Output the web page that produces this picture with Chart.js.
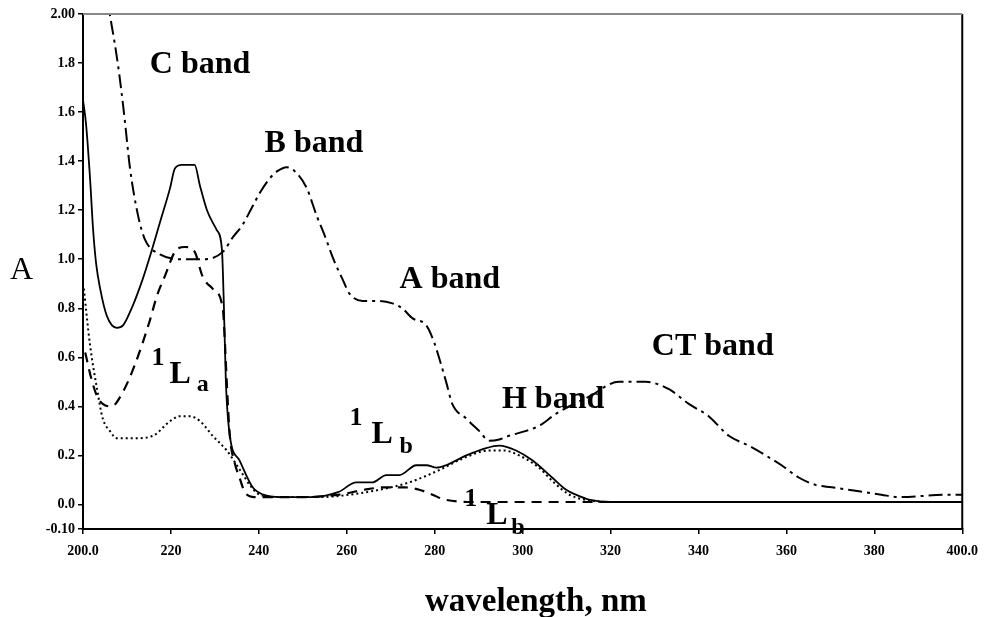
<!DOCTYPE html>
<html>
<head>
<meta charset="utf-8">
<title>UV-Vis absorption spectra</title>
<script src="https://cdn.jsdelivr.net/npm/chart.js@4.4.1/dist/chart.umd.min.js"></script>
<style>
  html, body { margin: 0; padding: 0; background: #fff; }
  canvas { display: block; }
</style>
</head>
<body>
<canvas id="spectra" width="987" height="617"></canvas>
<script>
// Absorption spectra (A vs wavelength, nm) for four samples

// dash-dot curve: C, B, A, H and CT bands
const dashDotWl  = [205.3, 207.9, 209.3, 210.7, 212.5, 214.1, 217.5, 223.2, 227.7, 231.8,
                    234.1, 236.3, 238.4, 240.2, 242.5, 244.3, 246.3, 248.1, 250.9, 253.1,
                    254.9, 257.2, 259.0, 260.6, 263.6, 267.4, 270.4, 272.6, 274.9, 278.1,
                    279.9, 281.3, 282.6, 284.0, 287.2, 290.1, 292.4, 294.7, 296.9, 300.8,
                    303.7, 307.6, 315.1, 321.9, 328.0, 333.3, 337.8, 342.3, 346.9, 351.4,
                    355.3, 358.9, 362.8, 366.6, 370.3, 374.1, 378.0, 381.6, 385.5, 396.8, 400.0];
const dashDotAbs = [2.08, 1.80, 1.60, 1.37, 1.18, 1.08, 1.02, 1.00, 1.00, 1.03,
                    1.09, 1.14, 1.21, 1.27, 1.33, 1.36, 1.375, 1.36, 1.29, 1.18,
                    1.10, 0.99, 0.92, 0.86, 0.83, 0.83, 0.82, 0.80, 0.76, 0.73,
                    0.66, 0.58, 0.50, 0.41, 0.35, 0.30, 0.26, 0.265, 0.28, 0.30,
                    0.32, 0.37, 0.44, 0.50, 0.50, 0.47, 0.41, 0.36, 0.28, 0.24,
                    0.20, 0.16, 0.11, 0.08, 0.07, 0.06, 0.05, 0.04, 0.03, 0.04, 0.04];

// solid curve
const solidWl  = [200.0, 200.7, 201.6, 202.3, 203.0, 203.9, 205.4, 207.7, 209.1, 211.3,
                  213.6, 215.2, 217.5, 219.8, 220.9, 222.5, 225.4, 226.6, 228.2, 230.4,
                  231.6, 232.0, 232.5, 233.4, 235.6, 238.6, 241.0, 245.0, 252.0, 258.0,
                  262.2, 265.8, 269.0, 272.0, 275.8, 278.1, 280.4, 282.6, 287.2, 291.7,
                  294.7, 298.5, 302.2, 306.7, 309.9, 312.1, 315.1, 320.0, 400.0];
const solidAbs = [1.65, 1.55, 1.33, 1.12, 0.98, 0.88, 0.77, 0.72, 0.73, 0.81,
                  0.92, 1.01, 1.15, 1.29, 1.37, 1.385, 1.385, 1.30, 1.20, 1.12,
                  1.04, 0.84, 0.50, 0.28, 0.18, 0.07, 0.04, 0.03, 0.03, 0.05,
                  0.09, 0.09, 0.12, 0.12, 0.16, 0.16, 0.15, 0.16, 0.20, 0.23,
                  0.24, 0.22, 0.18, 0.11, 0.06, 0.04, 0.02, 0.01, 0.01];

// dashed curve (1La / 1Lb)
const dashedWl  = [200.5, 201.8, 203.0, 204.5, 206.5, 209.1, 211.8, 215.2, 216.8, 218.6,
                   221.3, 223.2, 225.4, 227.2, 229.5, 231.8, 232.2, 232.7, 233.4, 234.5,
                   235.6, 236.8, 239.0, 249.3, 258.3, 264.0, 268.6, 273.1, 276.5, 279.5,
                   282.2, 290.0, 400.0];
const dashedAbs = [0.62, 0.52, 0.45, 0.41, 0.40, 0.46, 0.57, 0.75, 0.85, 0.93,
                   1.04, 1.05, 1.03, 0.93, 0.88, 0.80, 0.69, 0.50, 0.28, 0.17,
                   0.11, 0.05, 0.03, 0.03, 0.04, 0.06, 0.07, 0.07, 0.06, 0.04,
                   0.02, 0.01, 0.01];

// dotted curve
const dottedWl  = [200.2, 200.9, 201.6, 203.2, 204.5, 206.1, 207.7, 211.8, 215.9, 219.8,
                   222.0, 224.3, 226.6, 229.5, 232.7, 235.0, 236.8, 237.9, 240.2, 244.7,
                   253.8, 260.6, 267.4, 274.2, 281.0, 286.7, 292.4, 295.8, 299.2, 303.7,
                   307.1, 310.6, 314.0, 320.0, 400.0];
const dottedAbs = [0.88, 0.76, 0.65, 0.47, 0.35, 0.30, 0.27, 0.27, 0.28, 0.34,
                   0.36, 0.36, 0.34, 0.28, 0.22, 0.16, 0.11, 0.08, 0.04, 0.03,
                   0.03, 0.04, 0.06, 0.09, 0.14, 0.19, 0.22, 0.22, 0.20, 0.15,
                   0.09, 0.04, 0.02, 0.01, 0.01];

// axis ticks
const xTickLabels = ['200.0', '220', '240', '260', '280', '300', '320', '340', '360', '380', '400.0'];
const yTickValues = [-0.1, 0, 0.2, 0.4, 0.6, 0.8, 1.0, 1.2, 1.4, 1.6, 1.8, 2.0];
const yTickLabels = ['-0.10', '0.0', '0.2', '0.4', '0.6', '0.8', '1.0', '1.2', '1.4', '1.6', '1.8', '2.00'];

// band names, anchored in data units (left edge, baseline)
const bandLabels = [
    { text: 'C band',  wl: 215.2, abs: 1.76,   size: 32 },
    { text: 'B band',  wl: 241.3, abs: 1.437,  size: 32 },
    { text: 'A band',  wl: 272.0, abs: 0.883,  size: 32 },
    { text: 'H band',  wl: 295.3, abs: 0.393,  size: 32 },
    { text: 'CT band', wl: 329.4, abs: 0.610,  size: 32 },
    { text: '1', wl: 215.6, abs: 0.569,  size: 26 },
    { text: 'L', wl: 219.7, abs: 0.496,  size: 32 },
    { text: 'a', wl: 225.9, abs: 0.463,  size: 24 },
    { text: '1', wl: 260.6, abs: 0.324,  size: 26 },
    { text: 'L', wl: 265.6, abs: 0.251,  size: 32 },
    { text: 'b', wl: 272.0, abs: 0.210,  size: 24 },
    { text: '1', wl: 286.7, abs: -0.007, size: 26 },
    { text: 'L', wl: 291.7, abs: -0.080, size: 32 },
    { text: 'b', wl: 297.4, abs: -0.121, size: 24 }
];

const SERIF = "'Liberation Serif', 'Times New Roman', serif";

function toPoints(xs, ys) {
    return xs.map((x, i) => ({ x: x, y: ys[i] }));
}

function lineSet(label, xs, ys, dash, width) {
    return {
        label: label,
        data: toPoints(xs, ys),
        borderColor: '#000',
        borderWidth: width,
        borderDash: dash,
        pointRadius: 0,
        fill: false,
        tension: 0.3,
        cubicInterpolationMode: 'monotone'
    };
}

// frame, axis titles and band names
const spectraDecor = {
    id: 'spectraDecor',
    afterDraw(chart) {
        const ctx = chart.ctx;
        const area = chart.chartArea;
        const xs = chart.scales.x;
        const ys = chart.scales.y;
        ctx.save();

        ctx.lineWidth = 2;
        ctx.strokeStyle = '#000';
        ctx.beginPath();
        ctx.moveTo(area.right, area.top);
        ctx.lineTo(area.right, area.bottom);
        ctx.stroke();
        ctx.strokeStyle = '#888';
        ctx.beginPath();
        ctx.moveTo(area.left, area.top);
        ctx.lineTo(area.right, area.top);
        ctx.stroke();

        ctx.fillStyle = '#000';
        ctx.textBaseline = 'alphabetic';

        // y title stays upright
        ctx.textAlign = 'left';
        ctx.font = '32px ' + SERIF;
        ctx.fillText('A', 10, ys.getPixelForValue(0.92));

        // x title sits a little right of the plot centre
        ctx.textAlign = 'center';
        ctx.font = 'bold 33px ' + SERIF;
        ctx.fillText('wavelength, nm', xs.getPixelForValue(303), chart.height - 6);

        ctx.textAlign = 'left';
        for (const lbl of bandLabels) {
            ctx.font = 'bold ' + lbl.size + 'px ' + SERIF;
            ctx.fillText(lbl.text, xs.getPixelForValue(lbl.wl), ys.getPixelForValue(lbl.abs));
        }
        ctx.restore();
    }
};

new Chart(document.getElementById('spectra').getContext('2d'), {
    type: 'line',
    data: {
        datasets: [
            lineSet('dash-dot', dashDotWl, dashDotAbs, [14, 5, 3, 5], 2),
            lineSet('solid', solidWl, solidAbs, [], 1.8),
            lineSet('dashed', dashedWl, dashedAbs, [10, 7], 2.2),
            lineSet('dotted', dottedWl, dottedAbs, [2, 3], 2)
        ]
    },
    options: {
        responsive: false,
        animation: false,
        layout: { padding: { top: 14, right: 23, left: 0, bottom: 0 } },
        plugins: {
            legend: { display: false },
            tooltip: { enabled: false }
        },
        scales: {
            x: {
                type: 'linear',
                min: 200,
                max: 400,
                afterFit: s => { s.height = 88; },
                ticks: {
                    stepSize: 20,
                    autoSkip: false,
                    maxRotation: 0,
                    padding: 9,
                    color: '#000',
                    font: { family: SERIF, size: 14, weight: 'bold' },
                    callback: (v, i) => xTickLabels[i]
                },
                grid: { drawOnChartArea: false, tickLength: 5, color: '#000', lineWidth: 1.5 },
                border: { color: '#000', width: 2 }
            },
            y: {
                type: 'linear',
                min: -0.1,
                max: 2.0,
                afterFit: s => { s.width = 83; },
                afterBuildTicks: s => { s.ticks = yTickValues.map(v => ({ value: v })); },
                ticks: {
                    padding: 3,
                    color: '#000',
                    font: { family: SERIF, size: 14, weight: 'bold' },
                    callback: (v, i) => yTickLabels[i]
                },
                grid: { drawOnChartArea: false, tickLength: 5, color: '#000', lineWidth: 1.5 },
                border: { color: '#000', width: 2 }
            }
        }
    },
    plugins: [spectraDecor]
});
</script>
</body>
</html>
